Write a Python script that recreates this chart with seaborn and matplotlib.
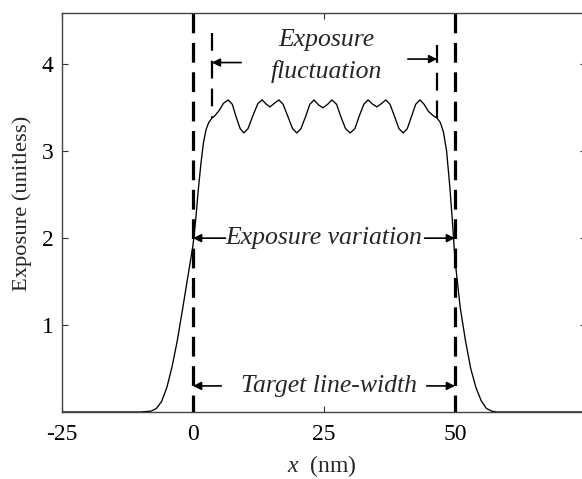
import matplotlib
matplotlib.use("Agg")
import matplotlib.pyplot as plt
import seaborn as sns
import pandas as pd

# ---- data ----
x_nm = [-25, -12, -10, -8, -7, -6, -5, -4, -3, -2, -1, 0, 0.5, 1, 1.5, 2, 2.5, 3, 3.6,
        4.2, 5.0, 5.8, 6.7, 7.5, 8.2, 9.0, 9.7, 10.5, 11.5, 12.4, 13.2, 14.0, 14.7, 15.5,
        16.4, 17.2, 18.1, 19.0, 19.8, 20.6, 21.5, 22.3, 23.1, 24.0, 24.8, 25.7, 26.5,
        27.4, 28.2, 29.1, 30.0, 30.9, 31.7, 32.6, 33.4, 34.3, 35.1, 36.0, 36.8, 37.6,
        38.4, 39.3, 40.1, 40.9, 41.7, 42.5, 43.3, 44.1, 44.9, 45.8, 46.6,
        47.2, 47.8, 48.4, 49, 49.5, 50, 51, 52, 53, 54, 55, 56, 57, 58, 62, 75]
exposure = [0, 0, 0.0, 0.01, 0.04, 0.12, 0.28, 0.52, 0.82, 1.18, 1.55, 1.92, 2.2, 2.55, 2.85, 3.1, 3.25, 3.33, 3.38,
            3.41, 3.47, 3.55, 3.59, 3.54, 3.40, 3.26, 3.21, 3.26, 3.42, 3.55, 3.59, 3.54, 3.51, 3.55,
            3.59, 3.54, 3.40, 3.26, 3.21, 3.26, 3.40, 3.54, 3.59, 3.53, 3.50, 3.54, 3.59,
            3.54, 3.40, 3.26, 3.21, 3.26, 3.40, 3.54, 3.59, 3.54, 3.51, 3.55, 3.59, 3.54,
            3.41, 3.26, 3.21, 3.26, 3.40, 3.54, 3.59, 3.54, 3.46, 3.41, 3.38,
            3.33, 3.22, 3.0, 2.6, 2.2, 1.75, 1.2, 0.82, 0.5, 0.28, 0.13, 0.04, 0.01, 0, 0, 0]

x_ticks = [-25, 0, 25, 50]
x_tick_labels = ["-25", "0", "25", "50"]
y_ticks = [1, 2, 3, 4]
y_tick_labels = ["1", "2", "3", "4"]

target_edges = [0, 50]          # thick dashed lines
fluct_edges = [3.6, 46.6]       # short dashed lines
fluct_tops = [4.36, 4.22]
fluct_bottoms = [3.38, 3.38]

df = pd.DataFrame({"x": x_nm, "E": exposure})

sns.set_style("ticks")
plt.rcParams["font.family"] = ["Liberation Serif", "DejaVu Serif"]
plt.rcParams["mathtext.fontset"] = "custom"
plt.rcParams["mathtext.it"] = "Liberation Serif:italic"
plt.rcParams["mathtext.rm"] = "Liberation Serif"

fig = plt.figure(figsize=(5.82, 4.79), dpi=100)
ax = fig.add_axes([62 / 582, 67 / 479, 524 / 582, 399 / 479])

sns.lineplot(data=df, x="x", y="E", ax=ax, color="black", linewidth=0.95, sort=False)

for xe in target_edges:
    ax.plot([xe, xe], [4.59, 0], color="black", linewidth=2.3, dashes=(6.2, 3.0))
for xe, yt, yb in zip(fluct_edges, fluct_tops, fluct_bottoms):
    ax.plot([xe, xe], [yt, yb], color="black", linewidth=1.6, dashes=(8, 4.5))

ax.set_xlim(-25, 75)
ax.set_ylim(0, 4.59)
ax.set_xticks(x_ticks)
ax.set_xticklabels(x_tick_labels)
ax.set_yticks(y_ticks)
ax.set_yticklabels(y_tick_labels)
ax.tick_params(direction="in", length=4, width=0.8, labelsize=17, colors="#333333",
               top=True, right=True)
ax.tick_params(axis="x", pad=9)
ax.tick_params(axis="y", pad=6)
for lab in ax.get_xticklabels() + ax.get_yticklabels():
    lab.set_color("black")
for sp in ax.spines.values():
    sp.set_visible(True)
    sp.set_color("#444444")
    sp.set_linewidth(1.0)

ax.set_xlabel(r"$x$  (nm)", fontsize=17)
ax.set_ylabel("Exposure (unitless)", fontsize=16.2)
ax.xaxis.set_label_coords(0.496, -0.104)
ax.yaxis.set_label_coords(-0.057, 0.524)

arrow = dict(arrowstyle="-|>", color="black", lw=1.2, mutation_scale=12, shrinkA=0, shrinkB=0)
tfont = dict(fontsize=18.5, style="italic", ha="center", va="center")

# Exposure fluctuation
ax.text(25.5, 4.28, "Exposure", **tfont)
ax.text(25.5, 3.92, "fluctuation", **tfont)
ax.annotate("", xy=(fluct_edges[0], 4.02), xytext=(9.2, 4.02), arrowprops=arrow)
ax.annotate("", xy=(fluct_edges[1], 4.06), xytext=(41.0, 4.06), arrowprops=arrow)

# Exposure variation
ax.text(25.0, 2.0, "Exposure variation", **tfont)
ax.annotate("", xy=(0, 2.0), xytext=(6.2, 2.0), arrowprops=arrow)
ax.annotate("", xy=(50, 2.0), xytext=(44.2, 2.0), arrowprops=arrow)

# Target line-width
ax.text(26.0, 0.30, "Target line-width", **tfont)
ax.annotate("", xy=(0, 0.30), xytext=(5.4, 0.30), arrowprops=arrow)
ax.annotate("", xy=(50, 0.30), xytext=(44.6, 0.30), arrowprops=arrow)

fig.savefig("out.png", dpi=100)
